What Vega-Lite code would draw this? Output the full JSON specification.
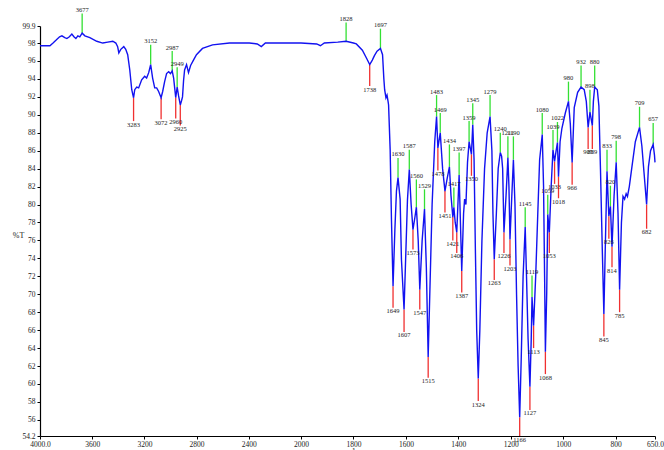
{
  "$schema": "https://vega.github.io/schema/vega-lite/v6.json",
  "width": 615,
  "height": 410,
  "autosize": {"type": "none"},
  "padding": {"left": 40, "top": 26, "right": 9, "bottom": 14},
  "background": "white",
  "config": {"view": {"stroke": null}},
  "datasets": {
    "spectrum": [
      {"w":4000,"t":97.7},{"w":3960,"t":97.7},{"w":3924,"t":97.7},{"w":3900,"t":98.0},{"w":3878,"t":98.3},{"w":3850,"t":98.7},{"w":3832,"t":98.8},{"w":3810,"t":98.6},{"w":3794,"t":98.5},{"w":3775,"t":98.7},{"w":3756,"t":99.0},{"w":3740,"t":98.7},{"w":3725,"t":98.5},{"w":3710,"t":98.8},{"w":3695,"t":98.7},{"w":3677,"t":99.1},{"w":3656,"t":98.8},{"w":3618,"t":98.6},{"w":3565,"t":98.2},{"w":3519,"t":98.0},{"w":3481,"t":98.1},{"w":3442,"t":98.2},{"w":3419,"t":98.0},{"w":3405,"t":97.6},{"w":3396,"t":96.9},{"w":3381,"t":97.3},{"w":3358,"t":97.6},{"w":3343,"t":97.3},{"w":3328,"t":96.7},{"w":3312,"t":95.0},{"w":3297,"t":92.8},{"w":3283,"t":91.9},{"w":3274,"t":92.8},{"w":3259,"t":93.1},{"w":3244,"t":93.0},{"w":3221,"t":93.9},{"w":3198,"t":94.3},{"w":3183,"t":94.1},{"w":3167,"t":94.7},{"w":3152,"t":95.6},{"w":3137,"t":94.1},{"w":3121,"t":93.0},{"w":3106,"t":93.0},{"w":3091,"t":92.6},{"w":3072,"t":91.9},{"w":3060,"t":92.6},{"w":3045,"t":93.7},{"w":3030,"t":94.6},{"w":3014,"t":94.8},{"w":3000,"t":94.6},{"w":2987,"t":94.9},{"w":2976,"t":94.1},{"w":2968,"t":93.0},{"w":2960,"t":91.9},{"w":2949,"t":93.1},{"w":2938,"t":92.1},{"w":2925,"t":91.1},{"w":2915,"t":91.6},{"w":2908,"t":92.0},{"w":2900,"t":93.8},{"w":2892,"t":95.0},{"w":2877,"t":95.6},{"w":2862,"t":94.7},{"w":2846,"t":95.5},{"w":2824,"t":96.1},{"w":2801,"t":96.7},{"w":2755,"t":97.4},{"w":2678,"t":97.8},{"w":2548,"t":98.0},{"w":2396,"t":98.0},{"w":2335,"t":97.9},{"w":2304,"t":97.6},{"w":2273,"t":98.0},{"w":2090,"t":98.0},{"w":2000,"t":98.0},{"w":1940,"t":97.9},{"w":1926,"t":97.7},{"w":1911,"t":98.0},{"w":1860,"t":98.1},{"w":1828,"t":98.2},{"w":1800,"t":98.0},{"w":1789,"t":97.9},{"w":1766,"t":97.2},{"w":1750,"t":96.3},{"w":1738,"t":95.6},{"w":1728,"t":96.1},{"w":1720,"t":96.6},{"w":1710,"t":97.1},{"w":1697,"t":97.4},{"w":1689,"t":96.7},{"w":1684,"t":94.0},{"w":1681,"t":92.8},{"w":1676,"t":91.9},{"w":1672,"t":92.2},{"w":1668,"t":91.5},{"w":1666,"t":91.1},{"w":1660,"t":86.1},{"w":1655,"t":78.3},{"w":1649,"t":70.9},{"w":1642,"t":77.2},{"w":1636,"t":81.5},{"w":1630,"t":83.0},{"w":1622,"t":80.6},{"w":1617,"t":73.9},{"w":1607,"t":68.3},{"w":1601,"t":73.9},{"w":1594,"t":80.5},{"w":1587,"t":83.9},{"w":1580,"t":80.0},{"w":1573,"t":77.2},{"w":1566,"t":78.5},{"w":1560,"t":79.7},{"w":1553,"t":76.0},{"w":1547,"t":70.5},{"w":1538,"t":76.0},{"w":1529,"t":79.5},{"w":1522,"t":73.0},{"w":1515,"t":63.0},{"w":1508,"t":71.0},{"w":1500,"t":80.0},{"w":1490,"t":87.0},{"w":1483,"t":89.8},{"w":1478,"t":86.3},{"w":1469,"t":88.0},{"w":1460,"t":84.0},{"w":1451,"t":81.5},{"w":1442,"t":83.0},{"w":1434,"t":84.2},{"w":1428,"t":81.0},{"w":1421,"t":78.6},{"w":1417,"t":79.7},{"w":1412,"t":78.0},{"w":1406,"t":76.9},{"w":1397,"t":83.3},{"w":1392,"t":78.0},{"w":1387,"t":72.6},{"w":1380,"t":79.0},{"w":1376,"t":80.6},{"w":1371,"t":80.0},{"w":1365,"t":84.7},{"w":1359,"t":87.0},{"w":1350,"t":85.6},{"w":1345,"t":88.9},{"w":1340,"t":85.0},{"w":1335,"t":75.0},{"w":1330,"t":66.0},{"w":1324,"t":60.6},{"w":1318,"t":66.0},{"w":1310,"t":76.0},{"w":1300,"t":84.0},{"w":1290,"t":88.0},{"w":1279,"t":89.8},{"w":1272,"t":86.0},{"w":1268,"t":79.0},{"w":1263,"t":73.9},{"w":1255,"t":79.0},{"w":1248,"t":84.0},{"w":1240,"t":85.8},{"w":1235,"t":85.4},{"w":1231,"t":84.0},{"w":1226,"t":76.9},{"w":1218,"t":81.0},{"w":1211,"t":85.2},{"w":1207,"t":82.0},{"w":1203,"t":76.1},{"w":1196,"t":81.0},{"w":1190,"t":85.0},{"w":1184,"t":80.0},{"w":1178,"t":70.0},{"w":1172,"t":62.0},{"w":1166,"t":56.3},{"w":1160,"t":63.0},{"w":1153,"t":72.0},{"w":1145,"t":77.5},{"w":1140,"t":72.0},{"w":1134,"t":65.0},{"w":1127,"t":59.7},{"w":1122,"t":65.0},{"w":1119,"t":69.7},{"w":1113,"t":66.5},{"w":1105,"t":72.0},{"w":1097,"t":79.0},{"w":1090,"t":85.0},{"w":1080,"t":87.8},{"w":1075,"t":82.0},{"w":1071,"t":72.0},{"w":1068,"t":63.6},{"w":1063,"t":70.0},{"w":1059,"t":78.9},{"w":1053,"t":76.9},{"w":1046,"t":82.0},{"w":1039,"t":86.1},{"w":1033,"t":84.8},{"w":1027,"t":86.0},{"w":1022,"t":86.9},{"w":1018,"t":83.1},{"w":1012,"t":87.0},{"w":1005,"t":88.5},{"w":992,"t":90.2},{"w":980,"t":91.5},{"w":973,"t":89.0},{"w":966,"t":84.7},{"w":958,"t":90.8},{"w":945,"t":92.5},{"w":932,"t":93.1},{"w":920,"t":92.8},{"w":912,"t":91.5},{"w":905,"t":88.6},{"w":898,"t":90.3},{"w":889,"t":88.8},{"w":885,"t":91.5},{"w":880,"t":93.1},{"w":870,"t":92.8},{"w":864,"t":91.0},{"w":858,"t":84.0},{"w":851,"t":75.0},{"w":845,"t":67.8},{"w":839,"t":76.0},{"w":833,"t":83.7},{"w":826,"t":78.7},{"w":820,"t":79.8},{"w":814,"t":75.3},{"w":806,"t":81.0},{"w":798,"t":84.7},{"w":791,"t":79.0},{"w":785,"t":70.5},{"w":778,"t":78.0},{"w":772,"t":80.9},{"w":766,"t":80.6},{"w":760,"t":81.2},{"w":755,"t":80.9},{"w":748,"t":82.0},{"w":738,"t":84.2},{"w":725,"t":87.0},{"w":709,"t":88.6},{"w":700,"t":86.5},{"w":692,"t":83.6},{"w":682,"t":80.0},{"w":675,"t":84.2},{"w":667,"t":86.0},{"w":657,"t":86.7},{"w":652,"t":85.5},{"w":650,"t":84.7}
    ],
    "peaks": [
      {"w":3677,"t":99.1,"e":101.3,"label":"3677","type":"max"},
      {"w":3152,"t":95.6,"e":97.8,"label":"3152","type":"max"},
      {"w":2987,"t":94.9,"e":97.1,"label":"2987","type":"max"},
      {"w":2949,"t":93.1,"e":95.3,"label":"2949","type":"max"},
      {"w":1828,"t":98.2,"e":100.3,"label":"1828","type":"max"},
      {"w":1697,"t":97.4,"e":99.6,"label":"1697","type":"max"},
      {"w":1630,"t":83.0,"e":85.2,"label":"1630","type":"max"},
      {"w":1587,"t":83.9,"e":86.1,"label":"1587","type":"max"},
      {"w":1560,"t":79.7,"e":82.8,"label":"1560","type":"max"},
      {"w":1529,"t":79.5,"e":81.7,"label":"1529","type":"max"},
      {"w":1483,"t":89.8,"e":92.2,"label":"1483","type":"max"},
      {"w":1469,"t":88.0,"e":90.2,"label":"1469","type":"max"},
      {"w":1434,"t":84.2,"e":86.7,"label":"1434","type":"max"},
      {"w":1417,"t":79.7,"e":81.9,"label":"1417","type":"max"},
      {"w":1397,"t":83.3,"e":85.8,"label":"1397","type":"max"},
      {"w":1359,"t":87.0,"e":89.3,"label":"1359","type":"max"},
      {"w":1345,"t":88.9,"e":91.3,"label":"1345","type":"max"},
      {"w":1279,"t":89.8,"e":92.2,"label":"1279","type":"max"},
      {"w":1240,"t":85.8,"e":88.0,"label":"1240","type":"max"},
      {"w":1211,"t":85.2,"e":87.6,"label":"1211","type":"max"},
      {"w":1190,"t":85.0,"e":87.6,"label":"1190","type":"max"},
      {"w":1145,"t":77.5,"e":79.7,"label":"1145","type":"max"},
      {"w":1119,"t":69.7,"e":72.1,"label":"1119","type":"max"},
      {"w":1080,"t":87.8,"e":90.2,"label":"1080","type":"max"},
      {"w":1059,"t":78.9,"e":81.1,"label":"1059","type":"max"},
      {"w":1039,"t":86.1,"e":88.3,"label":"1039","type":"max"},
      {"w":1022,"t":86.9,"e":89.2,"label":"1022","type":"max"},
      {"w":980,"t":91.5,"e":93.7,"label":"980","type":"max"},
      {"w":932,"t":93.1,"e":95.5,"label":"932","type":"max"},
      {"w":898,"t":90.3,"e":92.8,"label":"898","type":"max"},
      {"w":880,"t":93.1,"e":95.5,"label":"880","type":"max"},
      {"w":833,"t":83.7,"e":86.1,"label":"833","type":"max"},
      {"w":820,"t":79.8,"e":82.1,"label":"820","type":"max"},
      {"w":798,"t":84.7,"e":87.1,"label":"798","type":"max"},
      {"w":709,"t":88.6,"e":90.9,"label":"709","type":"max"},
      {"w":657,"t":86.7,"e":89.1,"label":"657","type":"max"},
      {"w":3283,"t":91.9,"e":89.3,"label":"3283","type":"min"},
      {"w":3072,"t":91.9,"e":89.5,"label":"3072","type":"min"},
      {"w":2960,"t":91.9,"e":89.6,"label":"2960","type":"min"},
      {"w":2925,"t":91.1,"e":88.8,"label":"2925","type":"min"},
      {"w":1738,"t":95.6,"e":93.2,"label":"1738","type":"min"},
      {"w":1649,"t":70.9,"e":68.5,"label":"1649","type":"min"},
      {"w":1607,"t":68.3,"e":65.8,"label":"1607","type":"min"},
      {"w":1573,"t":77.2,"e":75.0,"label":"1573","type":"min"},
      {"w":1547,"t":70.5,"e":68.3,"label":"1547","type":"min"},
      {"w":1515,"t":63.0,"e":60.7,"label":"1515","type":"min"},
      {"w":1478,"t":86.3,"e":83.8,"label":"1478","type":"min"},
      {"w":1451,"t":81.5,"e":79.1,"label":"1451","type":"min"},
      {"w":1421,"t":78.6,"e":76.0,"label":"1421","type":"min"},
      {"w":1406,"t":76.9,"e":74.6,"label":"1406","type":"min"},
      {"w":1387,"t":72.6,"e":70.2,"label":"1387","type":"min"},
      {"w":1350,"t":85.6,"e":83.2,"label":"1350","type":"min"},
      {"w":1324,"t":60.6,"e":58.1,"label":"1324","type":"min"},
      {"w":1263,"t":73.9,"e":71.6,"label":"1263","type":"min"},
      {"w":1226,"t":76.9,"e":74.6,"label":"1226","type":"min"},
      {"w":1203,"t":76.1,"e":73.2,"label":"1203","type":"min"},
      {"w":1166,"t":56.3,"e":54.2,"label":"1166","type":"min"},
      {"w":1127,"t":59.7,"e":57.1,"label":"1127","type":"min"},
      {"w":1113,"t":66.5,"e":64.0,"label":"1113","type":"min"},
      {"w":1068,"t":63.6,"e":61.1,"label":"1068","type":"min"},
      {"w":1053,"t":76.9,"e":74.6,"label":"1053","type":"min"},
      {"w":1033,"t":84.8,"e":82.3,"label":"1033","type":"min"},
      {"w":1018,"t":83.1,"e":80.7,"label":"1018","type":"min"},
      {"w":966,"t":84.7,"e":82.2,"label":"966","type":"min"},
      {"w":905,"t":88.6,"e":86.2,"label":"905","type":"min"},
      {"w":889,"t":88.8,"e":86.2,"label":"889","type":"min"},
      {"w":845,"t":67.8,"e":65.3,"label":"845","type":"min"},
      {"w":826,"t":78.7,"e":76.2,"label":"826","type":"min"},
      {"w":814,"t":75.3,"e":73.0,"label":"814","type":"min"},
      {"w":785,"t":70.5,"e":68.0,"label":"785","type":"min"},
      {"w":682,"t":80.0,"e":77.3,"label":"682","type":"min"}
    ]
  },
  "encoding": {
    "x": {
      "field": "w", "type": "quantitative",
      "scale": {"domain": [4000, 2000, 650], "range": [0, 261, 615], "nice": false, "zero": false},
      "axis": {
        "values": [4000, 3600, 3200, 2800, 2400, 2000, 1800, 1600, 1400, 1200, 1000, 800, 650],
        "labelExpr": "datum.value == 4000 ? '4000.0' : datum.value == 650 ? '650.0' : format(datum.value, 'd')",
        "grid": false,
        "domainColor": "#000000", "domainWidth": 1.2,
        "tickColor": "#000000", "tickSize": 3,
        "labelFont": "Liberation Serif", "labelFontSize": 7.5, "labelColor": "#222222", "labelPadding": 1,
        "labelOverlap": false, "labelFlush": false,
        "title": "cm-1", "titleFont": "Liberation Serif", "titleFontSize": 8, "titleFontWeight": "normal",
        "titleColor": "#222222", "titleX": 307, "titleY": 11, "titleBaseline": "top"
      }
    },
    "y": {
      "field": "t", "type": "quantitative",
      "scale": {"domain": [54.2, 99.9], "nice": false, "zero": false},
      "axis": {
        "values": [54.2, 56, 58, 60, 62, 64, 66, 68, 70, 72, 74, 76, 78, 80, 82, 84, 86, 88, 90, 92, 94, 96, 98, 99.9],
        "labelExpr": "datum.value == 54.2 ? '54.2' : datum.value == 99.9 ? '99.9' : format(datum.value, 'd')",
        "grid": false,
        "domainColor": "#000000", "domainWidth": 1.2,
        "tickColor": "#000000", "tickSize": 3,
        "labelFont": "Liberation Serif", "labelFontSize": 7.5, "labelColor": "#222222", "labelPadding": 2,
        "labelOverlap": false,
        "title": "%T", "titleFont": "Liberation Serif", "titleFontSize": 8, "titleFontWeight": "normal",
        "titleColor": "#222222", "titleAngle": 0, "titleX": -22, "titleY": 209, "titleAlign": "center", "titleBaseline": "middle"
      }
    }
  },
  "layer": [
    {
      "data": {"name": "peaks"},
      "mark": {"type": "rule", "strokeWidth": 1.3},
      "encoding": {
        "y2": {"field": "e"},
        "color": {"field": "type", "type": "nominal", "scale": {"domain": ["max", "min"], "range": ["#33e033", "#f03030"]}, "legend": null}
      }
    },
    {
      "data": {"name": "spectrum"},
      "mark": {"type": "line", "color": "#1212f0", "strokeWidth": 1.4},
      "encoding": {}
    },
    {
      "data": {"name": "peaks"},
      "transform": [{"filter": "datum.type == 'max'"}],
      "mark": {"type": "text", "baseline": "bottom", "font": "Liberation Serif", "fontSize": 6.5, "color": "#222222", "dy": -0.5},
      "encoding": {
        "y": {"field": "e", "type": "quantitative"},
        "text": {"field": "label"}
      }
    },
    {
      "data": {"name": "peaks"},
      "transform": [{"filter": "datum.type == 'min'"}],
      "mark": {"type": "text", "baseline": "top", "font": "Liberation Serif", "fontSize": 6.5, "color": "#222222", "dy": 0.5},
      "encoding": {
        "y": {"field": "e", "type": "quantitative"},
        "text": {"field": "label"}
      }
    }
  ]
}
